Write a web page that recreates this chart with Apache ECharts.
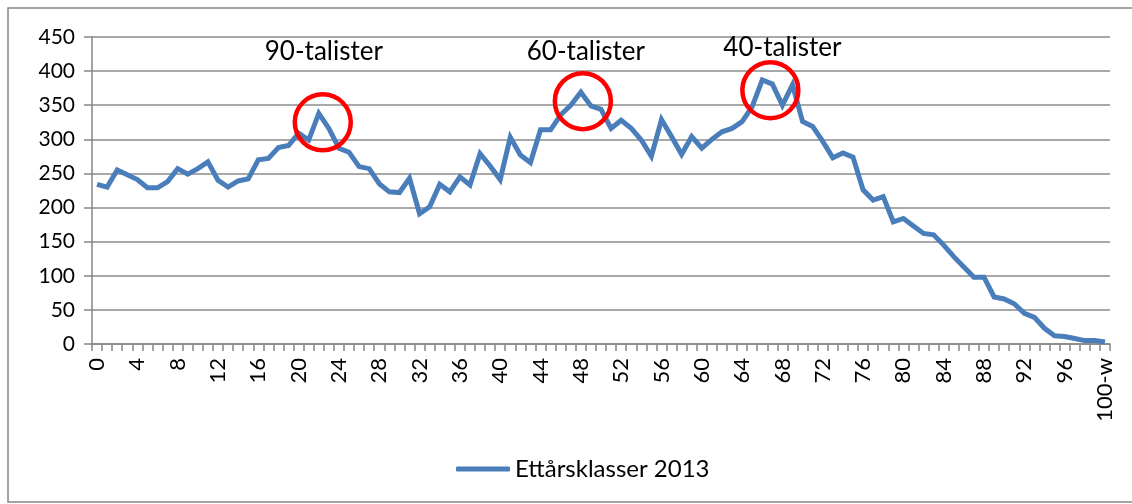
<!DOCTYPE html>
<html>
<head>
<meta charset="utf-8">
<script src="https://cdn.jsdelivr.net/npm/echarts@6/dist/echarts.min.js"></script>
<style>
html,body{margin:0;padding:0;background:#fff;}
#chart{width:1132px;height:504px;}
</style>
</head>
<body>
<div id="chart"></div>
<script>
// Categories: one-year age classes 0..99 and "100-w"
const categories = [];
for (let i = 0; i < 100; i++) categories.push(String(i));
categories.push('100-w');

const seriesName = 'Ettårsklasser 2013';
const values = [
  234, 230, 255, 248, 241, 229, 229, 238, 257, 249,
  257, 267, 240, 230, 239, 242, 270, 272, 288, 291,
  309, 299, 338, 316, 287, 281, 260, 257, 235, 223,
  222, 243, 191, 201, 234, 223, 245, 233, 279, 261,
  241, 303, 277, 266, 314, 314, 336, 350, 369, 349,
  344, 316, 328, 316, 299, 275, 329, 304, 278, 304,
  287, 300, 311, 316, 326, 348, 387, 381, 350, 380,
  326, 319, 297, 273, 280, 274, 226, 211, 216, 179,
  184, 173, 162, 160, 145, 128, 113, 98, 98, 69,
  66, 59, 45, 39, 23, 12, 11, 8, 5, 5,
  3
];

const yTicks = { min: 0, max: 450, interval: 50 };

// Annotations: [label, category index, value]
const labelNotes = [
  ['90-talister', 23, 428],
  ['60-talister', 48, 428],
  ['40-talister', 68, 435]
];
const circleNotes = [
  [22, 325],
  [48, 356],
  [67, 372]
];
const labelOffsets = [[-5, 0], [5, 0], [0, 0]];
const circleOffsets = [[4, 0], [2, 0], [-2, 0]];

const FONT = 'Lato, "Open Sans", "Noto Sans", sans-serif';

const markData = [];
circleNotes.forEach((c, i) => {
  markData.push({
    coord: [c[0], c[1]],
    symbol: 'circle',
    symbolSize: 56,
    symbolOffset: circleOffsets[i],
    itemStyle: { color: 'rgba(0,0,0,0)', borderColor: '#ff0000', borderWidth: 4.5 },
    label: { show: false }
  });
});
labelNotes.forEach((l, i) => {
  markData.push({
    coord: [l[1], l[2]],
    symbol: 'circle',
    symbolSize: 0,
    itemStyle: { color: 'rgba(0,0,0,0)' },
    label: {
      show: true, formatter: l[0], position: 'inside',
      offset: labelOffsets[i],
      color: '#000', fontSize: 26, fontFamily: FONT
    }
  });
});

const chart = echarts.init(document.getElementById('chart'), null, { renderer: 'canvas' });
chart.setOption({
  animation: false,
  backgroundColor: '#fff',
  textStyle: { fontFamily: FONT },
  graphic: [{
    type: 'rect',
    shape: { x: 8, y: 8, width: 1140, height: 494 },
    style: { fill: 'none', stroke: '#868686', lineWidth: 1.5 },
    silent: true
  }],
  grid: { left: 92, top: 37, width: 1018, height: 307, containLabel: false },
  legend: {
    bottom: 18,
    left: 451,
    data: [seriesName],
    icon: 'roundRect',
    itemWidth: 54,
    itemHeight: 5,
    itemGap: 5,
    textStyle: { fontSize: 24, color: '#000', fontFamily: FONT, padding: [0, 0, 0, 0] }
  },
  xAxis: {
    type: 'category',
    data: categories,
    boundaryGap: true,
    axisLine: { show: true, lineStyle: { color: '#868686', width: 1.5 } },
    axisTick: { show: true, interval: 0, length: 7, lineStyle: { color: '#868686', width: 1.5 } },
    axisLabel: { interval: 3, rotate: 90, fontSize: 22, color: '#000', margin: 14, fontFamily: FONT },
    splitLine: { show: false }
  },
  yAxis: {
    type: 'value',
    min: yTicks.min, max: yTicks.max, interval: yTicks.interval,
    axisLine: { show: true, lineStyle: { color: '#868686', width: 1.5 } },
    axisTick: { show: true, length: 8, lineStyle: { color: '#868686', width: 1.5 } },
    axisLabel: { fontSize: 21, color: '#000', margin: 17, fontFamily: FONT },
    splitLine: { show: true, lineStyle: { color: '#8c8c8c', width: 1.5 } }
  },
  series: [{
    name: seriesName,
    type: 'line',
    data: values,
    symbol: 'none',
    lineStyle: { color: '#4a7ebb', width: 5, join: 'miter' },
    itemStyle: { color: '#4a7ebb' },
    markPoint: { silent: true, data: markData, z: 10 }
  }]
});
</script>
</body>
</html>
